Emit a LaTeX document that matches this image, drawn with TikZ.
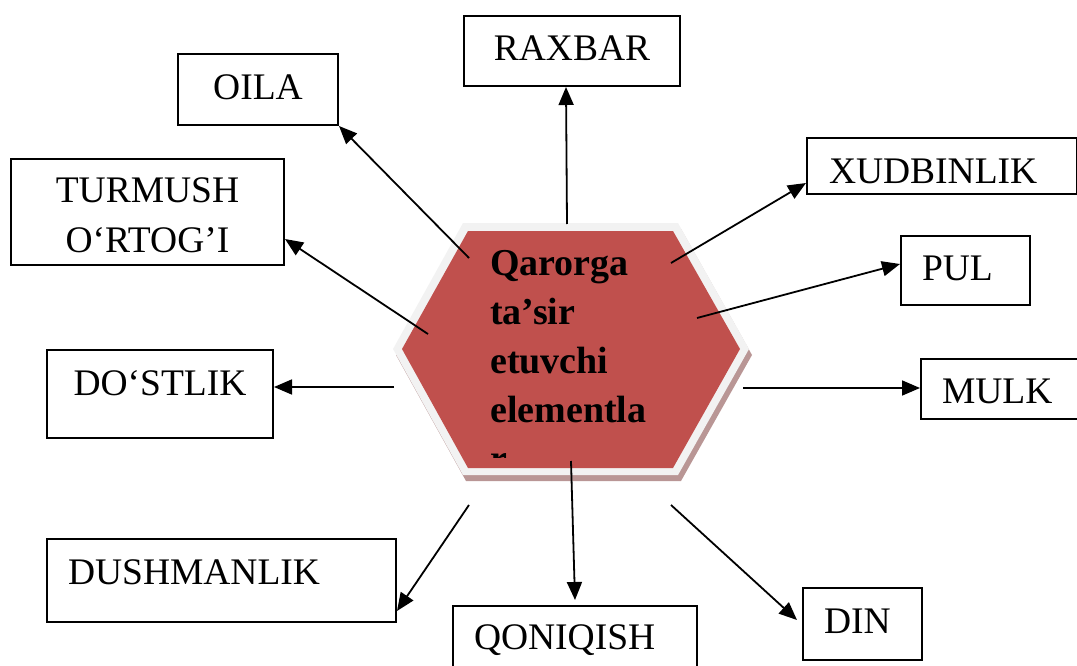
\documentclass[tikz,border=0pt]{standalone}
\usepackage{fontspec}
\setmainfont{Liberation Serif}
\usetikzlibrary{arrows.meta}
\definecolor{hexred}{RGB}{192,80,77}
\definecolor{hexrim}{RGB}{242,242,242}
\definecolor{hexshade}{RGB}{185,150,149}
\newcommand{\boxfont}{\fontsize{37.5}{50}\selectfont}
\tikzset{
  factor/.style={draw, line width=2pt, font=\boxfont, inner sep=0pt, anchor=north west},
  link/.style={line width=1.8pt, -{Triangle[length=18pt,width=15pt]}}
}

\begin{document}
\begin{tikzpicture}[x=1pt, y=-1pt]
\useasboundingbox (0,0) rectangle (1077,666);
\fill [hexshade] (466,229) -- (681,229) -- (752,355) -- (681,481) -- (466,481) -- (396,355) -- cycle;
\fill [hexrim] (463,223) -- (678,223) -- (749,349) -- (678,475) -- (463,475) -- (393,349) -- cycle;
\fill [hexred] (468,231) -- (673,231) -- (740,349) -- (673,468) -- (468,468) -- (402,349) -- cycle;
\begin{scope}
\clip (480,231) rectangle (700,457);
\node [anchor=base west, text width=250pt, align=left, inner sep=0pt, font=\bfseries\fontsize{38}{49}\selectfont] (core) at (490,275) {Qarorga\\ta’sir\\etuvchi\\elementla\\r};
\end{scope}

\node [factor, text width=216pt, align=center, text height=45pt, text depth=25pt] (raxbar) at (463,15) {RAXBAR};
\node [factor, text width=160pt, align=center, text height=46pt, text depth=25pt] (oila) at (177,53) {OILA};
\node [factor, text width=273pt, align=center, text height=44pt, text depth=62pt] (turmush) at (10,158) {TURMUSH\\O‘RTOG’I};
\node [factor, inner xsep=22pt, text width=226pt, align=left, text height=45pt, text depth=11pt] (xudbinlik) at (806,137) {XUDBINLIK};
\node [factor, inner xsep=21pt, text width=87pt, align=left, text height=44pt, text depth=25pt] (pul) at (900,235) {PUL};
\node [factor, text width=226pt, align=center, text height=45pt, text depth=43pt] (dostlik) at (46,349) {DO‘STLIK};
\node [factor, inner xsep=21pt, text width=118pt, align=left, text height=44pt, text depth=16pt] (mulk) at (920,358) {MULK};
\node [factor, inner xsep=21pt, text width=307pt, align=left, text height=45pt, text depth=38pt] (dushmanlik) at (46,538) {DUSHMANLIK};
\node [factor, inner xsep=21pt, text width=202pt, align=left, text height=43pt, text depth=40pt] (qoniqish) at (452,605) {QONIQISH};
\node [factor, inner xsep=21pt, text width=77pt, align=left, text height=45pt, text depth=27pt] (din) at (802,587) {DIN};

\coordinate (toraxbar) at (567,224);
\coordinate (tooila) at (469,258);
\coordinate (toturmush) at (428,334);
\coordinate (toxudbinlik) at (671,263);
\coordinate (topul) at (697,318);
\coordinate (todostlik) at (394,387);
\coordinate (tomulk) at (743,388);
\coordinate (todushmanlik) at (469,505);
\coordinate (toqoniqish) at (571,461);
\coordinate (todin) at (671,505);

\draw [link] (toraxbar) -- ([xshift=-6pt]raxbar.south);
\draw [link] (tooila) -- (oila.south east);
\draw [link] (toturmush) -- ([yshift=27pt]turmush.south east);
\draw [link] (toxudbinlik) -- ([yshift=12pt]xudbinlik.south west);
\draw [link] (topul) -- ([yshift=-29pt]pul.north west);
\draw [link] (todostlik) -- ([yshift=-38pt]dostlik.north east);
\draw [link] (tomulk) -- ([yshift=-30pt]mulk.north west);
\draw [link] (todushmanlik) -- ([yshift=12pt]dushmanlik.south east);
\draw [link] (toqoniqish) -- ([yshift=5pt]qoniqish.north);
\draw [link] (todin) -- ([xshift=-5pt,yshift=-33pt]din.north west);
\end{tikzpicture}
\end{document}
